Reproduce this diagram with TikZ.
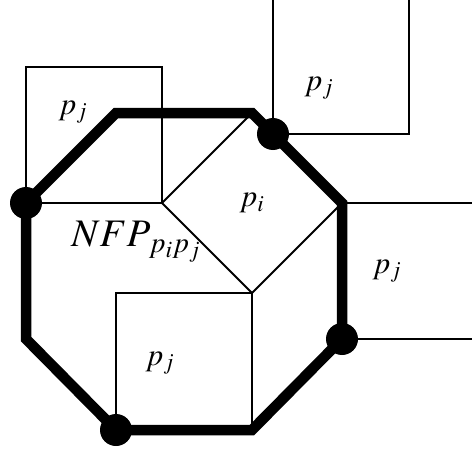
\documentclass[tikz,border=0pt]{standalone}
\usepackage{mathptmx}
\usepackage{fontspec}
\setmainfont{Liberation Serif}
\usetikzlibrary{positioning}

\begin{document}
\begin{tikzpicture}[x=1pt,y=-1pt,
  edge/.style={line width=1.8pt},
  nfpline/.style={line width=10.5pt},
  lbl/.style={font=\fontsize{31}{31}\selectfont}]
\clip (0,0) rectangle (472,455);
% p_i as a diamond
\coordinate (il) at (162,203);
\coordinate (it) at (252,113);
\coordinate (ir) at (342,203);
\coordinate (ib) at (252,293);
% corners of the NFP
\coordinate (a) at (116,113);
\coordinate (b) at (342,339);
\coordinate (c) at (252,430);
\coordinate (d) at (116,430);
\coordinate (e) at (26,339);
\coordinate (f) at (26,203);
\coordinate (g) at (273,134);
% the p_j copies
\draw[edge] (f) rectangle (162,67);
\draw[edge] (g) rectangle (409,-1);
\draw[edge] (ir) rectangle (478,339);
\draw[edge] (116,293) rectangle (c);
\draw[edge] (il) -- (it) -- (ir) -- (ib) -- cycle;
\draw[nfpline] (a) -- (it) -- (ir) -- (b) -- (c) -- (d) -- (e) -- (f) -- cycle;
\foreach \p in {f,g,b,d}
  \fill (\p) circle (16pt);
\node[lbl] (pi) at (252,203) {$p_i$};
\node[lbl] (pj1) at (73,112) {$p_j$};
\node[lbl] (pj2) at (319,88) {$p_j$};
\node[lbl] (pj3) at (387,271) {$p_j$};
\node[lbl] (pj4) at (160,363) {$p_j$};
\node[font=\fontsize{39}{39}\selectfont] (nfp) at (136,242) {$NFP_{\,p_ip_j}$};
\end{tikzpicture}
\end{document}
